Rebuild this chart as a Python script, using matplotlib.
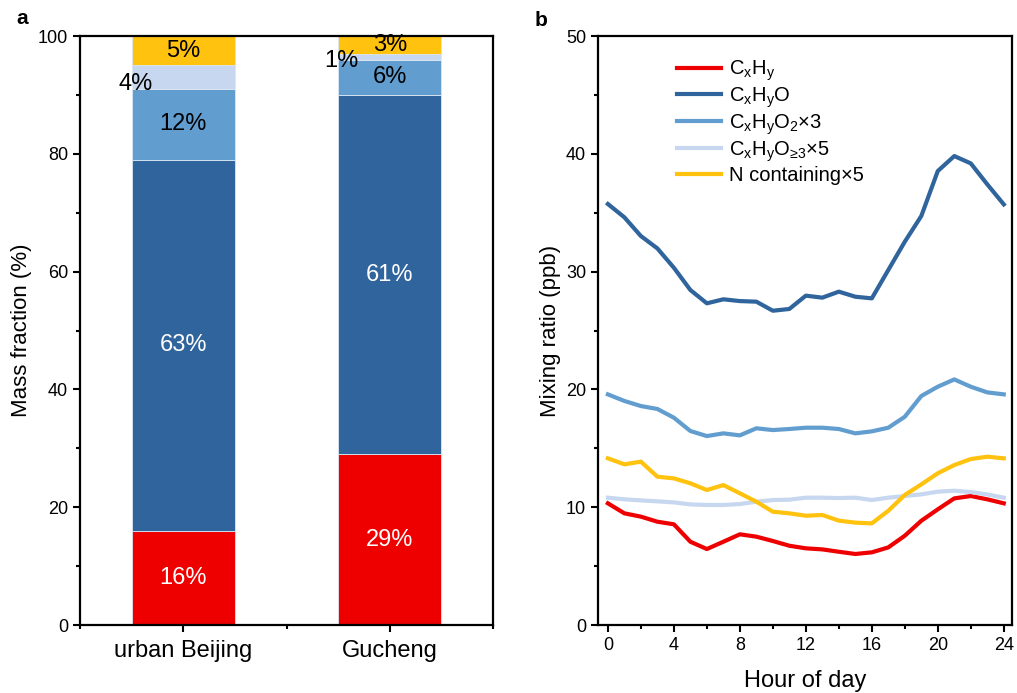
import matplotlib
matplotlib.use('Agg')
import matplotlib.pyplot as plt
import numpy as np
from matplotlib.ticker import MultipleLocator

plt.rcParams['font.family'] = ['Liberation Sans', 'DejaVu Sans']
plt.rcParams['mathtext.fontset'] = 'custom'
plt.rcParams['mathtext.rm'] = 'Liberation Sans'
plt.rcParams['mathtext.it'] = 'Liberation Sans:italic'
plt.rcParams['mathtext.bf'] = 'Liberation Sans:bold'

# ---- panel a: mass fractions (%)
sites = ['urban Beijing', 'Gucheng']
frac_cxhy = [16, 29]
frac_cxhyo = [63, 61]
frac_cxhyo2 = [12, 6]
frac_cxhyo3 = [4, 1]
frac_n = [5, 3]

# ---- panel b: diurnal mixing ratios (ppb)
hours = list(range(25))
cxhy = [10.33, 9.48, 9.20, 8.77, 8.55, 7.07, 6.45, 7.07, 7.70, 7.50, 7.13, 6.73, 6.51,
        6.42, 6.22, 6.03, 6.17, 6.59, 7.58, 8.85, 9.82, 10.75, 10.95, 10.67, 10.33]
cxhyo = [35.74, 34.61, 33.02, 31.97, 30.33, 28.44, 27.31, 27.65, 27.50, 27.45, 26.68, 26.83, 27.96,
         27.79, 28.30, 27.87, 27.73, 30.14, 32.54, 34.72, 38.54, 39.81, 39.19, 37.41, 35.71]
cxhyo2_x3 = [19.58, 19.02, 18.59, 18.34, 17.60, 16.47, 16.04, 16.27, 16.10, 16.70, 16.55, 16.64, 16.75,
             16.75, 16.64, 16.27, 16.44, 16.75, 17.68, 19.44, 20.23, 20.85, 20.23, 19.75, 19.58]
cxhyo3_x5 = [10.81, 10.67, 10.58, 10.50, 10.41, 10.24, 10.19, 10.19, 10.27, 10.47, 10.61, 10.64, 10.81,
             10.81, 10.78, 10.81, 10.61, 10.81, 10.95, 11.09, 11.32, 11.40, 11.29, 11.09, 10.81]
ncont_x5 = [14.15, 13.64, 13.87, 12.59, 12.45, 12.03, 11.46, 11.88, 11.18, 10.47, 9.62, 9.48, 9.28,
            9.34, 8.86, 8.69, 8.63, 9.70, 11.04, 11.94, 12.88, 13.58, 14.09, 14.29, 14.15]

red = '#EE0000'
dark = '#30649C'
mid = '#629DD0'
light = '#C6D7EF'
yellow = '#FFC20F'

fig = plt.figure(figsize=(10.17, 6.93), dpi=100)
axa = fig.add_axes([0.0787, 0.0981, 0.4061, 0.8499])
axb = fig.add_axes([0.588, 0.0981, 0.4071, 0.8499])

for ax in (axa, axb):
    for s in ax.spines.values():
        s.set_linewidth(1.6)
        s.set_zorder(5)
    ax.tick_params(which='major', direction='out', length=5, width=1.5, labelsize=13)
    ax.tick_params(which='minor', direction='out', length=3, width=1.5)

# stacked bars
xpos = np.array([1, 2])
segs = [frac_cxhy, frac_cxhyo, frac_cxhyo2, frac_cxhyo3, frac_n]
cols = [red, dark, mid, light, yellow]
bottom = np.zeros(2)
for vals, c in zip(segs, cols):
    axa.bar(xpos, vals, width=0.5, bottom=bottom, color=c, edgecolor='#DCE6F2', linewidth=0.6, zorder=2)
    bottom = bottom + np.array(vals)

cum = np.cumsum(np.array(segs), axis=0)
mids = cum - np.array(segs) / 2
tk = dict(fontsize=17, ha='center', va='center', zorder=3)
for i in range(2):
    axa.text(xpos[i], mids[0][i], f'{frac_cxhy[i]}%', color='white', **tk)
    axa.text(xpos[i], mids[1][i], f'{frac_cxhyo[i]}%', color='white', **tk)
    axa.text(xpos[i], mids[2][i], f'{frac_cxhyo2[i]}%', color='black', **tk)
    axa.text(xpos[i], mids[4][i], f'{frac_n[i]}%', color='black', **tk)
axa.text(0.85, mids[3][0] - 1.2, f'{frac_cxhyo3[0]}%', color='black', fontsize=17,
         ha='right', va='center', zorder=3)
axa.text(1.85, mids[3][1] - 0.8, f'{frac_cxhyo3[1]}%', color='black', fontsize=17,
         ha='right', va='center', zorder=3)

axa.set_xlim(0.5, 2.5)
axa.set_ylim(0, 100)
axa.set_xticks(xpos)
axa.set_xticklabels(sites, fontsize=17)
axa.set_xticks([0.5, 1.5, 2.5], minor=True)
axa.tick_params(axis='x', which='major', pad=6)
axa.yaxis.set_major_locator(MultipleLocator(20))
axa.yaxis.set_minor_locator(MultipleLocator(10))
axa.set_ylabel('Mass fraction (%)', fontsize=16)

# diurnal lines
lw = 3
axb.plot(hours, cxhy, color=red, lw=lw, label=r'$\mathregular{C_xH_y}$')
axb.plot(hours, cxhyo, color=dark, lw=lw, label=r'$\mathregular{C_xH_yO}$')
axb.plot(hours, cxhyo2_x3, color=mid, lw=lw, label=r'$\mathregular{C_xH_yO_2}$×3')
axb.plot(hours, cxhyo3_x5, color=light, lw=lw, label=r'$\mathregular{C_xH_yO_{≥3}}$×5')
axb.plot(hours, ncont_x5, color=yellow, lw=lw, label='N containing×5')

axb.set_xlim(-0.6, 24.5)
axb.set_ylim(0, 50)
axb.xaxis.set_major_locator(MultipleLocator(4))
axb.xaxis.set_minor_locator(MultipleLocator(2))
axb.yaxis.set_major_locator(MultipleLocator(10))
axb.yaxis.set_minor_locator(MultipleLocator(5))
axb.set_xlabel('Hour of day', fontsize=17, labelpad=12)
axb.set_ylabel('Mixing ratio (ppb)', fontsize=16)

axb.legend(loc='upper left', bbox_to_anchor=(0.19, 0.962), frameon=False, fontsize=14.5,
           handlelength=2.2, handletextpad=0.4, labelspacing=0.12, borderaxespad=0, borderpad=0)

fig.text(22 / 1017, 1 - 18 / 693, 'a', fontsize=15, fontweight='bold', ha='center', va='center')
fig.text(541 / 1017, 1 - 20 / 693, 'b', fontsize=15, fontweight='bold', ha='center', va='center')

fig.savefig('out.png', dpi=100)
